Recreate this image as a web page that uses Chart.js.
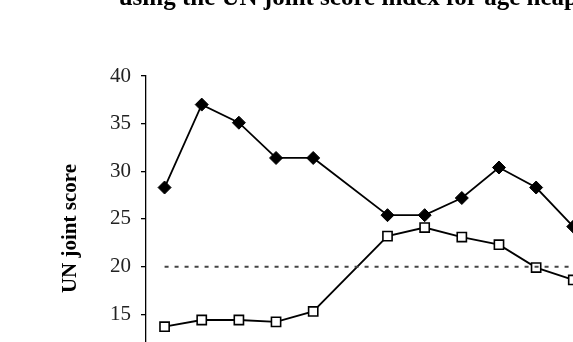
<!DOCTYPE html>
<html>
<head>
<meta charset="utf-8">
<script src="https://cdn.jsdelivr.net/npm/chart.js@4"></script>
<style>
    html, body { margin: 0; padding: 0; background: #fff; overflow: hidden; }
    body { width: 573px; height: 342px; position: relative; }
    #chart { position: absolute; left: 0; top: -20px; }
</style>
</head>
<body>
<canvas id="chart" width="730" height="441"></canvas>
<script>
// Points along the x axis (position 6 has no observation)
const xIndex = [1, 2, 3, 4, 5, 7, 8, 9, 10, 11, 12];
const seriesDiamond = [28.3, 37.0, 35.1, 31.4, 31.4, 25.4, 25.4, 27.2, 30.4, 28.3, 24.2];
const seriesSquare = [13.7, 14.4, 14.4, 14.2, 15.3, 23.2, 24.1, 23.1, 22.3, 19.9, 18.6];
const referenceLevel = 20;
const yTicks = [15, 20, 25, 30, 35, 40];
const titleText = 'using the UN joint score index for age heaping';
const yTitle = 'UN joint score';

const toPoints = (vals) => vals.map((v, i) => ({ x: xIndex[i], y: v }));

const refLine = [
    { x: xIndex[0], y: referenceLevel },
    { x: xIndex[xIndex.length - 1], y: referenceLevel }
];

new Chart(document.getElementById('chart'), {
    type: 'line',
    data: {
        datasets: [
            {
                label: 'Reference',
                data: refLine,
                borderColor: '#444',
                borderWidth: 2,
                borderDash: [4, 6],
                pointRadius: 0,
                fill: false
            },
            {
                label: 'Series A',
                data: toPoints(seriesDiamond),
                borderColor: '#000',
                borderWidth: 1.8,
                pointStyle: 'rectRot',
                pointRadius: 6.5,
                pointBackgroundColor: '#000',
                pointBorderColor: '#000',
                pointBorderWidth: 1,
                fill: false
            },
            {
                label: 'Series B',
                data: toPoints(seriesSquare),
                borderColor: '#000',
                borderWidth: 1.8,
                pointStyle: 'rect',
                pointRadius: 6.5,
                pointBackgroundColor: '#fff',
                pointBorderColor: '#000',
                pointBorderWidth: 1.6,
                fill: false
            }
        ]
    },
    options: {
        responsive: false,
        animation: false,
        layout: { padding: 0 },
        plugins: {
            legend: { display: false },
            tooltip: { enabled: false },
            title: {
                display: true,
                text: titleText,
                color: '#000',
                font: { family: 'Liberation Serif', size: 25, weight: 'bold' },
                padding: { top: 4, bottom: 62 }
            }
        },
        scales: {
            x: {
                type: 'linear',
                min: 0.5,
                max: 16,
                ticks: { display: false },
                grid: { display: false },
                border: { display: true, color: '#000', width: 1.3 },
                afterFit: (s) => { s.height = 40; }
            },
            y: {
                min: 8,
                max: 40,
                afterBuildTicks: (s) => {
                    s.ticks = yTicks.map(v => ({ value: v }));
                },
                afterFit: (s) => { s.width = 146; },
                ticks: {
                    color: '#222',
                    padding: 10,
                    font: { family: 'Liberation Serif', size: 21 }
                },
                grid: {
                    drawOnChartArea: false,
                    drawTicks: true,
                    tickLength: 5,
                    color: '#000',
                    lineWidth: 1.3
                },
                border: { display: true, color: '#000', width: 1.3 },
                title: {
                    display: true,
                    text: yTitle,
                    color: '#000',
                    font: { family: 'Liberation Serif', size: 21, weight: 'bold' },
                    padding: { top: 58, bottom: 0 }
                }
            }
        }
    }
});
</script>
</body>
</html>
